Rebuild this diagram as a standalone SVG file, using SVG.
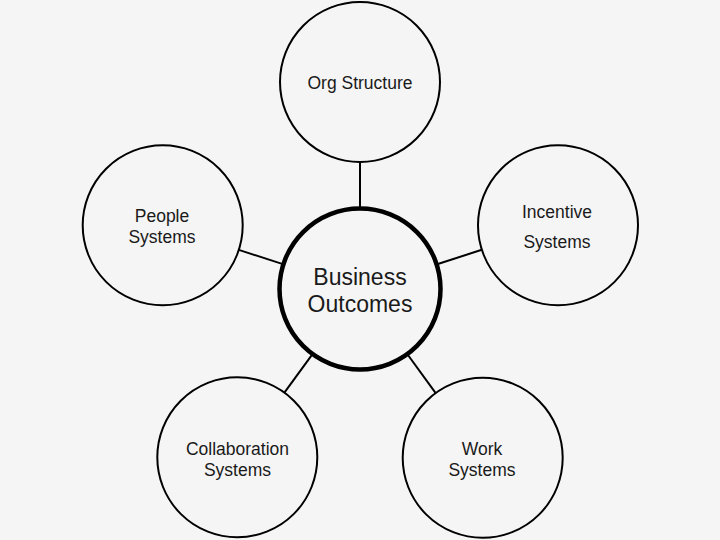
<svg xmlns="http://www.w3.org/2000/svg" width="720" height="540" viewBox="0 0 720 540">
  <style>
    .node { fill: #f5f5f5; stroke: #000; stroke-width: 2; }
    .hub { fill: #f5f5f5; stroke: #000; stroke-width: 4.5; }
    .lbl { font-family: "Liberation Sans", Arial, sans-serif; font-size: 17.5px; fill: #1a1a1a; text-anchor: middle; }
    .hublbl { font-family: "Liberation Sans", Arial, sans-serif; font-size: 23px; fill: #1a1a1a; text-anchor: middle; }
    .conn line { stroke: #000; stroke-width: 2; }
  </style>
  <rect width="720" height="540" fill="#f5f5f5"/>
  <g id="connectors" class="conn">
    <line x1="360" y1="162" x2="360" y2="207"/>
    <line x1="238.8" y1="249.9" x2="282.9" y2="264.1"/>
    <line x1="481.8" y1="249.8" x2="437.1" y2="264.2"/>
    <line x1="284.4" y1="392.7" x2="312.3" y2="354.4"/>
    <line x1="435.7" y1="393.1" x2="407.6" y2="354.5"/>
  </g>
  <g id="org-structure">
    <circle class="node" cx="360" cy="82" r="80"/>
    <text class="lbl" x="360" y="89">Org Structure</text>
  </g>
  <g id="people-systems">
    <circle class="node" cx="162.7" cy="225.3" r="80"/>
    <text class="lbl" x="162" y="222.3">People</text>
    <text class="lbl" x="162" y="242.7">Systems</text>
  </g>
  <g id="incentive-systems">
    <circle class="node" cx="558" cy="225.3" r="80"/>
    <text class="lbl" x="557" y="218.3">Incentive</text>
    <text class="lbl" x="557" y="248.3">Systems</text>
  </g>
  <g id="collaboration-systems">
    <circle class="node" cx="237.3" cy="457.3" r="80"/>
    <text class="lbl" x="237.5" y="455">Collaboration</text>
    <text class="lbl" x="237.5" y="476">Systems</text>
  </g>
  <g id="work-systems">
    <circle class="node" cx="482.7" cy="457.8" r="80"/>
    <text class="lbl" x="482" y="455">Work</text>
    <text class="lbl" x="482" y="476">Systems</text>
  </g>
  <g id="business-outcomes">
    <circle class="hub" cx="360" cy="289" r="80.5"/>
    <text class="hublbl" x="360" y="285">Business</text>
    <text class="hublbl" x="360" y="311.7">Outcomes</text>
  </g>
</svg>
